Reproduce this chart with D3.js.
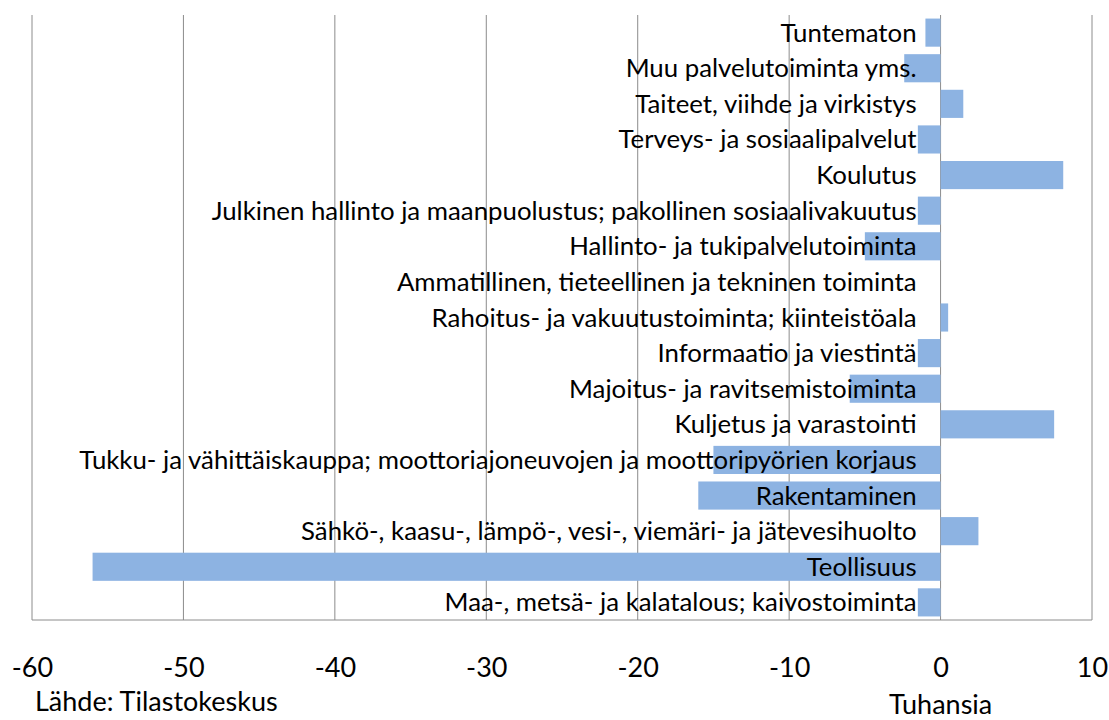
<!DOCTYPE html>
<html>
<head>
<meta charset="utf-8">
<script src="https://cdn.jsdelivr.net/npm/d3@7"></script>
<style>
  body { margin: 0; background: #fff; }
  svg text { font-family: Lato, "Open Sans", sans-serif; fill: #000; }
</style>
</head>
<body>
<svg class="chart"></svg>
<script>
// chart size
var width = 1109;
var height = 720;
var margin = {top: 15, right: 17, bottom: 100, left: 32};
var w = width - margin.left - margin.right;
var h = height - margin.top - margin.bottom;

// data (thousands), top to bottom
var categories = [
    "Tuntematon",
    "Muu palvelutoiminta yms.",
    "Taiteet, viihde ja virkistys",
    "Terveys- ja sosiaalipalvelut",
    "Koulutus",
    "Julkinen hallinto ja maanpuolustus; pakollinen sosiaalivakuutus",
    "Hallinto- ja tukipalvelutoiminta",
    "Ammatillinen, tieteellinen ja tekninen toiminta",
    "Rahoitus- ja vakuutustoiminta; kiinteistöala",
    "Informaatio ja viestintä",
    "Majoitus- ja ravitsemistoiminta",
    "Kuljetus ja varastointi",
    "Tukku- ja vähittäiskauppa; moottoriajoneuvojen ja moottoripyörien korjaus",
    "Rakentaminen",
    "Sähkö-, kaasu-, lämpö-, vesi-,  viemäri- ja jätevesihuolto",
    "Teollisuus",
    "Maa-, metsä- ja kalatalous; kaivostoiminta"
];
var values = [-1.0, -2.4, 1.5, -1.5, 8.1, -1.5, -5.0, 0, 0.5, -1.5, -6.0, 7.5, -15.0, -16.0, 2.5, -56.0, -1.5];
var xTicks = [-60, -50, -40, -30, -20, -10, 0, 10];

var svg = d3.select(".chart")
    .attr("width", width)
    .attr("height", height);

var chart = svg.append("g")
    .attr("transform", "translate(" + margin.left + "," + margin.top + ")");

var x = d3.scaleLinear()
    .domain([-60, 10])
    .range([0, w]);

var y = d3.scaleBand()
    .domain(categories)
    .range([0, h])
    .paddingInner(0.21)
    .paddingOuter(0.1);

// vertical gridlines
chart.selectAll("line.grid")
    .data(xTicks)
    .enter().append("line")
    .attr("class", "grid")
    .attr("x1", function(d) { return x(d); })
    .attr("x2", function(d) { return x(d); })
    .attr("y1", 0)
    .attr("y2", h)
    .style("stroke", "#8c8c8c")
    .style("stroke-width", 1);

// bottom border
chart.append("line")
    .attr("x1", 0).attr("x2", w)
    .attr("y1", h).attr("y2", h)
    .style("stroke", "#8c8c8c");

// bars
chart.selectAll("rect.bar")
    .data(values)
    .enter().append("rect")
    .attr("class", "bar")
    .attr("x", function(d) { return x(Math.min(0, d)); })
    .attr("y", function(d, i) { return y(categories[i]); })
    .attr("width", function(d) { return Math.abs(x(d) - x(0)); })
    .attr("height", y.bandwidth())
    .style("fill", "#8db3e2");

// category labels drawn over the bars
chart.selectAll("text.cat")
    .data(categories)
    .enter().append("text")
    .attr("class", "cat")
    .attr("x", x(0) - 24)
    .attr("y", function(d) { return y(d) + y.bandwidth() / 2; })
    .attr("dy", "0.35em")
    .style("text-anchor", "end")
    .style("font-size", "25.8px")
    .text(function(d) { return d; });

// x axis labels
var xAxis = d3.axisBottom(x)
    .tickValues(xTicks)
    .tickFormat(function(d) { return String(d); })
    .tickSize(0)
    .tickPadding(38);

chart.append("g")
    .attr("transform", "translate(0," + h + ")")
    .call(xAxis)
    .call(function(g) { g.select(".domain").remove(); })
    .selectAll("text")
    .style("font-size", "27px")
    .style("font-family", "Lato, 'Open Sans', sans-serif");

// unit and source
chart.append("text")
    .attr("x", x(0))
    .attr("y", h + 94)
    .style("text-anchor", "middle")
    .style("font-size", "27px")
    .text("Tuhansia");

svg.append("text")
    .attr("x", 35)
    .attr("y", 711)
    .style("font-size", "27px")
    .text("Lähde: Tilastokeskus");
</script>
</body>
</html>
